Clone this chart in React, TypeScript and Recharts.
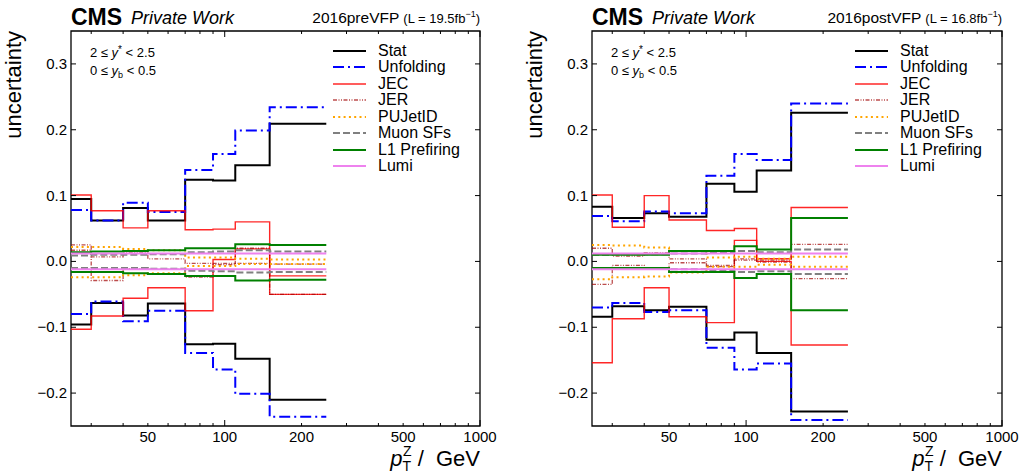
import { LineChart, Line, XAxis, YAxis, ReferenceArea, Legend } from "recharts";

// bin edges in pT(Z) [GeV]
const binEdges = [25, 30, 40, 50, 70, 90, 110, 150, 250];
const xTicks = [30, 40, 50, 60, 70, 80, 90, 100, 200, 300, 400, 500, 600, 700, 800, 900, 1000];
const xLabels = [50, 100, 200, 500, 1000];
const yTicks = [-0.2, -0.1, 0, 0.1, 0.2, 0.3];

// 2016preVFP
const preStatUp = [0.095, 0.062, 0.081, 0.062, 0.124, 0.123, 0.146, 0.209];
const preStatDn = [-0.096, -0.063, -0.082, -0.064, -0.126, -0.125, -0.148, -0.21];
const preUnfUp = [0.078, 0.062, 0.089, 0.075, 0.139, 0.163, 0.199, 0.234];
const preUnfDn = [-0.08, -0.061, -0.091, -0.075, -0.139, -0.164, -0.201, -0.236];
const preJecUp = [0.101, 0.077, 0.051, 0.077, 0.048, 0.049, 0.06, -0.022];
const preJecDn = [-0.103, -0.083, -0.056, -0.04, -0.075, 0.003, 0.019, -0.05];
const preJerUp = [0.025, 0.007, 0.013, 0.004, -0.003, -0.003, 0.02, -0.004];
const preJerDn = [0.017, -0.029, -0.011, -0.012, -0.024, -0.005, -0.003, -0.05];
const prePuUp = [0.022, 0.022, 0.019, 0.017, 0.006, 0.006, 0.004, 0.003];
const prePuDn = [-0.024, -0.024, -0.021, -0.018, -0.007, -0.007, -0.004, -0.004];
const preMuUp = [0.009, 0.01, 0.01, 0.011, 0.014, 0.015, 0.017, 0.015];
const preMuDn = [-0.01, -0.01, -0.01, -0.011, -0.014, -0.015, -0.017, -0.016];
const preL1Up = [0.014, 0.015, 0.016, 0.017, 0.02, 0.02, 0.026, 0.025];
const preL1Dn = [-0.016, -0.016, -0.018, -0.019, -0.022, -0.022, -0.029, -0.028];
const preLumiUp = [0.012, 0.012, 0.012, 0.012, 0.012, 0.012, 0.012, 0.012];
const preLumiDn = [-0.012, -0.012, -0.012, -0.012, -0.012, -0.012, -0.012, -0.012];

// 2016postVFP
const postStatUp = [0.083, 0.066, 0.073, 0.068, 0.118, 0.106, 0.138, 0.226];
const postStatDn = [-0.084, -0.068, -0.074, -0.069, -0.119, -0.108, -0.139, -0.228];
const postUnfUp = [0.069, 0.061, 0.076, 0.073, 0.13, 0.163, 0.154, 0.24];
const postUnfDn = [-0.07, -0.063, -0.077, -0.074, -0.131, -0.164, -0.155, -0.241];
const postJecUp = [0.101, 0.052, 0.1, 0.063, 0.047, 0.05, 0.004, 0.082];
const postJecDn = [-0.154, -0.087, -0.04, -0.084, -0.093, 0.032, 0.0, -0.127];
const postJerUp = [0.02, 0.008, 0.013, 0.004, -0.006, 0.004, 0.002, 0.026];
const postJerDn = [-0.035, -0.006, -0.01, -0.002, -0.008, 0.002, -0.001, -0.026];
const postPuUp = [0.025, 0.024, 0.021, 0.016, 0.006, 0.007, 0.004, 0.007];
const postPuDn = [-0.027, -0.024, -0.023, -0.017, -0.008, -0.008, -0.005, -0.008];
const postMuUp = [0.01, 0.011, 0.011, 0.012, 0.013, 0.016, 0.014, 0.018];
const postMuDn = [-0.01, -0.011, -0.011, -0.012, -0.014, -0.016, -0.015, -0.019];
const postL1Up = [0.01, 0.01, 0.01, 0.016, 0.016, 0.023, 0.018, 0.066];
const postL1Dn = [-0.01, -0.01, -0.01, -0.016, -0.016, -0.025, -0.019, -0.074];
const postLumiUp = [0.012, 0.012, 0.012, 0.012, 0.012, 0.012, 0.012, 0.012];
const postLumiDn = [-0.012, -0.012, -0.012, -0.012, -0.012, -0.012, -0.012, -0.012];

const series = [
  { name: "Stat", key: "stat", color: "#000000", width: 2 },
  { name: "Unfolding", key: "unf", color: "#0000ff", width: 2, dash: "11 4 2 4" },
  { name: "JEC", key: "jec", color: "#ff0000", width: 1.4, opacity: 0.85 },
  { name: "JER", key: "jer", color: "#a00000", width: 1.3, dash: "4 1.5 1 1.5 1 1.5", opacity: 0.7 },
  { name: "PUJetID", key: "pu", color: "#ffa500", width: 2, dash: "2 3.3" },
  { name: "Muon SFs", key: "mu", color: "#808080", width: 2, dash: "7 3" },
  { name: "L1 Prefiring", key: "l1", color: "#008000", width: 2 },
  { name: "Lumi", key: "lumi", color: "#ee82ee", width: 2 },
];

const preValues: Record<string, number[][]> = {
  stat: [preStatUp, preStatDn],
  unf: [preUnfUp, preUnfDn],
  jec: [preJecUp, preJecDn],
  jer: [preJerUp, preJerDn],
  pu: [prePuUp, prePuDn],
  mu: [preMuUp, preMuDn],
  l1: [preL1Up, preL1Dn],
  lumi: [preLumiUp, preLumiDn],
};
const postValues: Record<string, number[][]> = {
  stat: [postStatUp, postStatDn],
  unf: [postUnfUp, postUnfDn],
  jec: [postJecUp, postJecDn],
  jer: [postJerUp, postJerDn],
  pu: [postPuUp, postPuDn],
  mu: [postMuUp, postMuDn],
  l1: [postL1Up, postL1Dn],
  lumi: [postLumiUp, postLumiDn],
};

// step rows: one point per bin edge, last bin repeated at the upper edge
function buildRows(values: Record<string, number[][]>) {
  return binEdges.map((x, i) => {
    const j = Math.min(i, binEdges.length - 2);
    const row: any = { x };
    series.forEach((s) => {
      row[s.key + "Up"] = values[s.key][0][j];
      row[s.key + "Dn"] = values[s.key][1][j];
    });
    return row;
  });
}

const PLOT_TOP = 31;
const PLOT_BOTTOM = 426;
const FONT = "'Liberation Sans', Arial, sans-serif";

const fmtY = (v: number) => (v === 0 ? "0.0" : v < 0 ? "\u2212" + Math.abs(v).toFixed(1) : v.toFixed(1));

function LegendBox() {
  return (
    <div style={{ fontFamily: FONT, fontSize: 16, color: "#000" }}>
      {series.map((s) => (
        <div key={s.key} style={{ display: "flex", alignItems: "center", height: 16.5 }}>
          <svg width={45} height={16} style={{ display: "block" }}>
            <line x1={0} x2={33} y1={8} y2={8} stroke={s.color} strokeWidth={s.width}
              strokeDasharray={s.dash} strokeOpacity={s.opacity ?? 1} />
          </svg>
          <span style={{ lineHeight: "16px", whiteSpace: "nowrap" }}>{s.name}</span>
        </div>
      ))}
    </div>
  );
}

function Panel({ values, title, lumi, left, width, plotLeft, plotRight }: any) {
  const rows = buildRows(values);
  const xTick = (p: any) => {
    const v = p.payload.value;
    const len = v === 100 || v === 1000 ? 6 : 3;
    return (
      <g>
        <line x1={p.x} x2={p.x} y1={PLOT_BOTTOM} y2={PLOT_BOTTOM - len} stroke="#000" />
        <line x1={p.x} x2={p.x} y1={PLOT_TOP} y2={PLOT_TOP + len} stroke="#000" />
        {xLabels.includes(v) && (
          <text x={p.x} y={PLOT_BOTTOM + 16} textAnchor="middle" fontSize={15} fontFamily={FONT} fill="#000">{v}</text>
        )}
      </g>
    );
  };
  const yTick = (p: any) => (
    <g>
      <line x1={plotLeft} x2={plotLeft + 5} y1={p.y} y2={p.y} stroke="#000" />
      <line x1={plotRight - 5} x2={plotRight} y1={p.y} y2={p.y} stroke="#000" />
      <text x={plotLeft - 4} y={p.y + 5} textAnchor="end" fontSize={15} fontFamily={FONT} fill="#000">{fmtY(p.payload.value)}</text>
    </g>
  );
  return (
    <div style={{ position: "absolute", left, top: 0, width, height: 475 }}>
      <LineChart width={width} height={475} data={rows}
        margin={{ top: PLOT_TOP, right: width - plotRight, bottom: 475 - PLOT_BOTTOM - 30, left: plotLeft - 60 }}>
        <XAxis dataKey="x" type="number" scale="log" domain={[25, 1000]} allowDataOverflow
          ticks={xTicks} interval={0} tick={xTick} tickLine={false} axisLine={false} height={30} />
        <YAxis type="number" domain={[-0.25, 0.35]} allowDataOverflow ticks={yTicks} interval={0}
          tick={yTick} tickLine={false} axisLine={false} width={60} />
        {series.map((s) => [
          <Line key={s.key + "Up"} dataKey={s.key + "Up"} type="stepAfter" stroke={s.color} strokeWidth={s.width}
            strokeDasharray={s.dash} strokeOpacity={s.opacity ?? 1} dot={false} activeDot={false} isAnimationActive={false} />,
          <Line key={s.key + "Dn"} dataKey={s.key + "Dn"} type="stepAfter" stroke={s.color} strokeWidth={s.width}
            strokeDasharray={s.dash} strokeOpacity={s.opacity ?? 1} dot={false} activeDot={false} isAnimationActive={false} />,
        ])}
        <ReferenceArea x1={25} x2={1000} y1={-0.25} y2={0.35} fill="none" stroke="#000" strokeWidth={1.3} ifOverflow="visible" />
        <Legend layout="vertical" align="center" verticalAlign="middle" content={() => <LegendBox />}
          wrapperStyle={{ left: plotRight - 147, top: 42.5, width: 150 }} />
      </LineChart>
      <svg width={width} height={475} style={{ position: "absolute", left: 0, top: 0, pointerEvents: "none" }} fontFamily={FONT}>
        <text x={plotLeft} y={25} fontSize={23} fontWeight="bold">CMS</text>
        <text x={plotLeft + 60} y={24} fontSize={18} fontStyle="italic">Private Work</text>
        <text x={plotRight} y={23} textAnchor="end" fontSize={15.5}>
          {title + " "}
          <tspan fontSize={13}>(L = {lumi}fb</tspan>
          <tspan fontSize={9} dy={-6}>{"\u22121"}</tspan>
          <tspan fontSize={13} dy={6}>)</tspan>
        </text>
        <text x={plotLeft + 19} y={57} fontSize={13}>
          2 ≤ <tspan fontStyle="italic">y</tspan><tspan fontSize={10} dy={-4}>*</tspan><tspan dy={4}> &lt; 2.5</tspan>
        </text>
        <text x={plotLeft + 19} y={75} fontSize={13}>
          0 ≤ <tspan fontStyle="italic">y</tspan><tspan fontSize={9} dy={3}>b</tspan><tspan dy={-3}> &lt; 0.5</tspan>
        </text>
        <text transform={`translate(${plotLeft - 50}, ${PLOT_TOP}) rotate(-90)`} textAnchor="end" fontSize={22}>uncertainty</text>
        <text x={plotRight} y={466} textAnchor="end" fontSize={22}>
          <tspan fontStyle="italic">p</tspan>
          <tspan fontSize={14} dy={5}>T</tspan>
          <tspan fontSize={14} dx={-8} dy={-15}>Z</tspan>
          <tspan dy={10}>{"\u00a0/\u00a0\u00a0GeV"}</tspan>
        </text>
      </svg>
    </div>
  );
}

export default function App() {
  return (
    <div style={{ position: "absolute", left: 0, top: 0, width: 1023, height: 475, background: "#fff" }}>
      <Panel values={preValues} title="2016preVFP" lumi="19.5" left={0} width={512} plotLeft={71} plotRight={480} />
      <Panel values={postValues} title="2016postVFP" lumi="16.8" left={512} width={511} plotLeft={80} plotRight={490} />
    </div>
  );
}
